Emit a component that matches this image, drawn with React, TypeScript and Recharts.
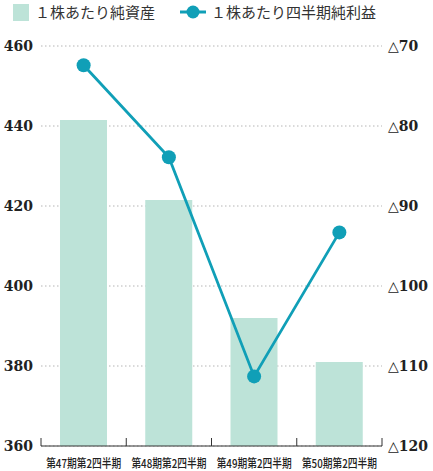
import React from 'react';
import { ComposedChart, Bar, Line, XAxis, YAxis, CartesianGrid } from 'recharts';

const periods = ['第47期第2四半期', '第48期第2四半期', '第49期第2四半期', '第50期第2四半期'];
const netAssetsPerShare = [441.5, 421.5, 392, 381];
const quarterlyProfitPerShare = [-72.4, -83.9, -111.3, -93.3];
const leftTicks = [360, 380, 400, 420, 440, 460];
const rightTicks = [-120, -110, -100, -90, -80, -70];

const BAR_NAME = '１株あたり純資産';
const LINE_NAME = '１株あたり四半期純利益';
const BAR_COLOR = '#bde3d8';
const LINE_COLOR = '#109fb7';

const WIDTH = 433;
const HEIGHT = 471;
const MARGIN = { top: 46, right: 0, bottom: 0, left: 0 };
const X_AXIS_H = 25;
const LEFT_AXIS_W = 41;
const RIGHT_AXIS_W = 51;
const BAND = (WIDTH - LEFT_AXIS_W - RIGHT_AXIS_W) / periods.length;

const data = periods.map((name, i) => ({
  name,
  netAssets: netAssetsPerShare[i],
  profit: quarterlyProfitPerShare[i],
}));

const numFont = "'DejaVu Serif', 'Liberation Serif', serif";
const cjkFont = "'Noto Sans CJK JP', 'Noto Sans', sans-serif";

const PeriodTick = (props: any) => {
  const { x, y, payload, index } = props;
  const last = index === periods.length - 1;
  return (
    <g>
      <line x1={x - BAND / 2} x2={x - BAND / 2} y1={y - 8} y2={y} stroke="#333" strokeWidth={1} />
      {last && <line x1={x + BAND / 2} x2={x + BAND / 2} y1={y - 8} y2={y} stroke="#333" strokeWidth={1} />}
      <text
        x={x}
        y={y + 22}
        textAnchor="middle"
        fontSize={12}
        fontWeight={500}
        style={{ fontFamily: cjkFont }}
        fill="#222"
        textLength={75}
        lengthAdjust="spacingAndGlyphs"
      >
        {payload.value}
      </text>
    </g>
  );
};

const NumTick = (props: any) => {
  const { x, y, payload, textAnchor, tickFormatter } = props;
  const label = tickFormatter ? tickFormatter(payload.value) : payload.value;
  return (
    <text
      x={x}
      y={y}
      dy="0.36em"
      textAnchor={textAnchor}
      fontSize={14}
      fontWeight={600}
      style={{ fontFamily: numFont }}
      fill="#222"
    >
      {label}
    </text>
  );
};

const ChartLegend = () => (
  <div
    style={{
      position: 'absolute',
      top: 3,
      left: 13,
      display: 'flex',
      alignItems: 'center',
      fontFamily: cjkFont,
      fontSize: 15,
      color: '#333',
      lineHeight: '18px',
      zIndex: 1,
    }}
  >
    <span style={{ display: 'inline-block', width: 16, height: 17, background: BAR_COLOR, marginRight: 6 }} />
    <span>{BAR_NAME}</span>
    <svg width={26} height={18} style={{ marginLeft: 25, marginRight: 5 }}>
      <line x1={0} x2={26} y1={9} y2={9} stroke={LINE_COLOR} strokeWidth={3} />
      <circle cx={13} cy={9} r={6.5} fill={LINE_COLOR} />
    </svg>
    <span>{LINE_NAME}</span>
  </div>
);

const App: React.FC = () => {
  return (
    <div style={{ position: 'absolute', left: 0, top: 0, width: WIDTH, height: HEIGHT, background: '#fff' }}>
      <ChartLegend />
      <ComposedChart width={WIDTH} height={HEIGHT} data={data} margin={MARGIN}>
        <CartesianGrid
          yAxisId="left"
          horizontal
          vertical={false}
          stroke="#b5b5b5"
          strokeDasharray="1.5 2.5"
        />
        <XAxis
          dataKey="name"
          height={X_AXIS_H}
          axisLine={{ stroke: '#333', strokeWidth: 1 }}
          tickLine={false}
          tickSize={0}
          tickMargin={0}
          tick={<PeriodTick />}
          interval={0}
        />
        <YAxis
          yAxisId="left"
          width={LEFT_AXIS_W}
          domain={[360, 460]}
          ticks={leftTicks}
          axisLine={false}
          tickLine={false}
          tick={<NumTick />}
        />
        <YAxis
          yAxisId="right"
          orientation="right"
          width={RIGHT_AXIS_W}
          domain={[-120, -70]}
          ticks={rightTicks}
          axisLine={false}
          tickLine={false}
          tickMargin={0}
          tick={<NumTick />}
          tickFormatter={(v: number) => '△' + Math.abs(v)}
        />
        <Bar yAxisId="left" dataKey="netAssets" name={BAR_NAME} fill={BAR_COLOR} barSize={47} isAnimationActive={false} />
        <Line
          yAxisId="right"
          dataKey="profit"
          name={LINE_NAME}
          stroke={LINE_COLOR}
          strokeWidth={2.8}
          dot={{ r: 7, fill: LINE_COLOR, stroke: LINE_COLOR, strokeWidth: 0 }}
          activeDot={false}
          isAnimationActive={false}
        />
      </ComposedChart>
    </div>
  );
};

export default App;
